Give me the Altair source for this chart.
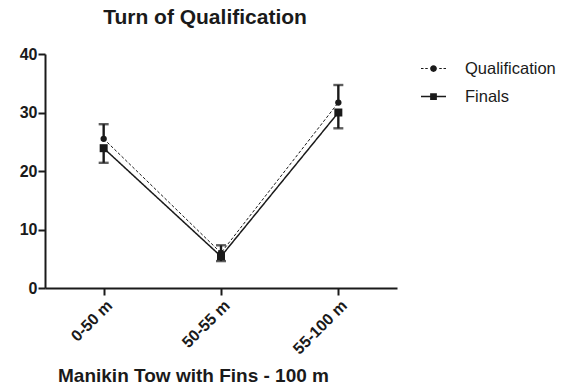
import altair as alt
import pandas as pd

categories = ["0-50 m", "50-55 m", "55-100 m"]
series_names = ["Qualification", "Finals"]
qual_mean = [25.5, 6.0, 31.7]
qual_err = [2.5, 1.3, 3.0]
finals_mean = [23.9, 5.4, 30.0]
finals_err = [2.5, 0.8, 2.7]

rows = []
for c, m, e in zip(categories, qual_mean, qual_err):
    rows.append(dict(cat=c, series="Qualification", mean=m, lo=m, hi=m + e, cap=m + e))
for c, m, e in zip(categories, finals_mean, finals_err):
    rows.append(dict(cat=c, series="Finals", mean=m, lo=m - e, hi=m, cap=m - e))
df = pd.DataFrame(rows)

FONT = "Liberation Sans"
INK = "#1a1a1a"

x_enc = alt.X(
    "cat:N",
    sort=categories,
    scale=alt.Scale(type="point", padding=0.5),
    axis=alt.Axis(
        title="Manikin Tow with Fins - 100 m",
        titleFont=FONT, titleFontSize=19, titleFontWeight="bold", titleColor=INK,
        titleX=148, titleY=93, titleAlign="center", titleBaseline="alphabetic",
        labelAngle=-45, labelFont=FONT, labelFontSize=16, labelFontWeight="bold",
        labelColor=INK, labelPadding=2,
        tickSize=7, tickWidth=2, tickColor=INK,
        domainWidth=2, domainColor=INK, grid=False,
    ),
)
y_axis = alt.Axis(
    title=None, values=[0, 10, 20, 30, 40],
    labelFont=FONT, labelFontSize=16, labelFontWeight="bold", labelColor=INK,
    labelPadding=1, tickSize=7, tickWidth=2, tickColor=INK,
    domainWidth=2, domainColor=INK, grid=False,
)
y_scale = alt.Scale(domain=[0, 40], nice=False)

base = alt.Chart(df)

lines = base.mark_line(color=INK).encode(
    x=x_enc,
    y=alt.Y("mean:Q", scale=y_scale, axis=y_axis),
    detail="series:N",
    strokeDash=alt.StrokeDash("series:N", scale=alt.Scale(domain=series_names, range=[[3, 2], [1, 0]]), legend=None),
    strokeWidth=alt.StrokeWidth("series:N", scale=alt.Scale(domain=series_names, range=[1.0, 1.5]), legend=None),
)

points = base.mark_point(filled=True, color=INK, opacity=1).encode(
    x=x_enc,
    y=alt.Y("mean:Q", scale=y_scale),
    shape=alt.Shape("series:N", scale=alt.Scale(domain=series_names, range=["circle", "square"]), legend=None),
    size=alt.Size("series:N", scale=alt.Scale(domain=series_names, range=[40, 64]), legend=None),
)

rules = base.mark_rule(color=INK, strokeWidth=2.4).encode(
    x=x_enc,
    y=alt.Y("lo:Q", scale=y_scale),
    y2="hi:Q",
)

caps = base.mark_tick(color=INK, thickness=2.4, size=10, orient="horizontal").encode(
    x=x_enc,
    y=alt.Y("cap:Q", scale=y_scale),
)

# legend glyphs: line drawn as thin filled rectangles plus the marker
qual_path = (
    "M-1,-0.045L-0.8,-0.045L-0.8,0.045L-1,0.045Z"
    "M-0.66,-0.045L-0.46,-0.045L-0.46,0.045L-0.66,0.045Z"
    "M0.46,-0.045L0.66,-0.045L0.66,0.045L0.46,0.045Z"
    "M0.8,-0.045L1,-0.045L1,0.045L0.8,0.045Z"
    "M0.27,0A0.27,0.27 0 1,1 -0.27,0A0.27,0.27 0 1,1 0.27,0Z"
)
fin_path = (
    "M-1,-0.06L1,-0.06L1,0.06L-1,0.06Z"
    "M-0.27,-0.27L0.27,-0.27L0.27,0.27L-0.27,0.27Z"
)

legend_layer = alt.Chart(pd.DataFrame({"series": series_names})).mark_point(
    filled=True, opacity=0, color=INK
).encode(
    shape=alt.Shape(
        "series:N",
        scale=alt.Scale(domain=series_names, range=[qual_path, fin_path]),
        legend=alt.Legend(
            title=None, orient="none", legendX=376, legendY=2,
            symbolSize=625, symbolOpacity=1, symbolFillColor=INK,
            symbolStrokeWidth=0,
            labelFont=FONT, labelFontSize=16.5, labelColor=INK,
            labelOffset=19, rowPadding=7,
        ),
    ),
)

chart = alt.layer(lines, rules, caps, points, legend_layer).resolve_scale(
    shape="independent"
).resolve_legend(
    shape="independent"
).properties(
    width=352,
    height=234,
    title=alt.Title(
        "Turn of Qualification", font=FONT, fontSize=21, fontWeight="bold",
        color=INK, anchor="middle", dx=-16, offset=18,
    ),
    padding={"left": 45, "top": 54, "right": 176, "bottom": 102},
    autosize=alt.AutoSizeParams(type="none"),
    background="white",
).configure_view(stroke=None)

chart.save("out.html", embed_options={"renderer": "svg", "actions": False})
